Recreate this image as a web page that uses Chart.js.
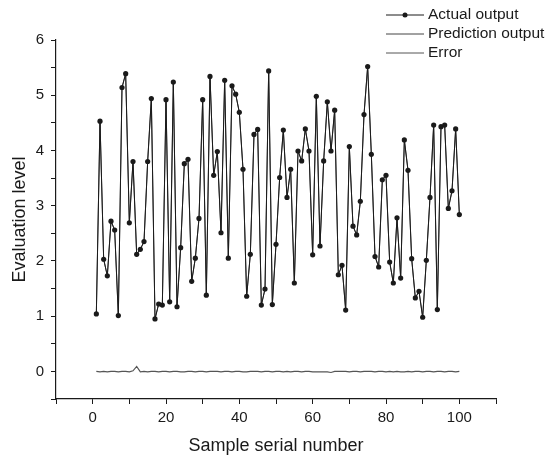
<!DOCTYPE html>
<html>
<head>
<meta charset="utf-8">
<script src="https://cdn.jsdelivr.net/npm/chart.js@4/dist/chart.umd.min.js"></script>
<style>
  html, body { margin: 0; padding: 0; background: #fff; }
  #wrap { width: 549px; height: 457px; }
</style>
</head>
<body>
<div id="wrap"><canvas id="chart" width="549" height="457"></canvas></div>
<script>
// Valores (amostras 1..100)
const actualOutput = [
  1.04, 4.53, 2.03, 1.73, 2.72, 2.56, 1.01, 5.14, 5.39, 2.69,
  3.80, 2.12, 2.21, 2.35, 3.80, 4.94, 0.95, 1.22, 1.20, 4.92,
  1.26, 5.24, 1.17, 2.24, 3.76, 3.84, 1.63, 2.05, 2.77, 4.92,
  1.38, 5.34, 3.55, 3.98, 2.51, 5.27, 2.05, 5.17, 5.02, 4.69,
  3.66, 1.36, 2.12, 4.29, 4.38, 1.20, 1.49, 5.44, 1.21, 2.30,
  3.51, 4.37, 3.15, 3.66, 1.60, 3.99, 3.81, 4.39, 3.99, 2.11,
  4.98, 2.27, 3.81, 4.88, 3.99, 4.73, 1.75, 1.92, 1.11, 4.07,
  2.63, 2.47, 3.08, 4.65, 5.52, 3.93, 2.08, 1.89, 3.47, 3.55,
  1.98, 1.60, 2.78, 1.69, 4.19, 3.64, 2.04, 1.33, 1.45, 0.98,
  2.01, 3.15, 4.46, 1.12, 4.43, 4.46, 2.95, 3.27, 4.39, 2.84
];
// A saída prevista coincide com a real no gráfico (linhas sobrepostas)
const predictionOutput = actualOutput;
const errorValues = [
  0.00, -0.01, 0.00, -0.01, 0.00, 0.00, -0.01, 0.00, 0.00, -0.01,
  0.01, 0.09, -0.01, 0.00, -0.01, 0.00, 0.00, -0.01, 0.00, 0.00,
  -0.01, 0.00, 0.00, -0.01, -0.01, 0.00, 0.00, -0.01, 0.00, 0.00,
  -0.01, 0.00, 0.00, 0.00, -0.01, 0.00, 0.00, -0.01, 0.00, 0.00,
  -0.01, -0.01, 0.00, 0.00, 0.00, -0.01, 0.00, 0.00, -0.01, 0.00,
  0.00, -0.01, 0.00, -0.01, 0.00, 0.00, -0.01, 0.00, 0.00, -0.01,
  -0.01, -0.01, -0.01, -0.01, -0.02, 0.00, 0.00, 0.00, 0.00, -0.01,
  0.00, 0.00, -0.01, 0.00, 0.00, 0.00, -0.01, 0.00, 0.00, -0.01,
  0.00, -0.01, 0.00, -0.01, -0.01, 0.00, -0.01, 0.00, 0.00, -0.01,
  0.00, 0.00, -0.01, 0.00, 0.00, -0.01, 0.00, 0.00, -0.01, 0.00
];
const legendLabels = ['Actual output', 'Prediction output', 'Error'];
const xTitle = 'Sample serial number';
const yTitle = 'Evaluation level';

const FONT = 'Arial, "Liberation Sans", sans-serif';
const INK = '#1a1a1a';

function toPoints(values) {
  return values.map((v, i) => ({ x: i + 1, y: v }));
}

// Legenda desenhada no canto superior direito, sobre a área do gráfico
const legendPlugin = {
  id: 'cornerLegend',
  afterDraw(chart) {
    const ctx = chart.ctx;
    const x0 = 386, x1 = 424, tx = 428;
    const rows = [15, 34, 53];
    ctx.save();
    ctx.font = '15.5px ' + FONT;
    ctx.textBaseline = 'middle';
    rows.forEach((y, i) => {
      const ds = chart.data.datasets[i];
      ctx.strokeStyle = ds.borderColor;
      ctx.lineWidth = 1;
      ctx.beginPath();
      ctx.moveTo(x0, y);
      ctx.lineTo(x1, y);
      ctx.stroke();
      if (i === 0) {
        ctx.beginPath();
        ctx.arc((x0 + x1) / 2, y, 2.5, 0, Math.PI * 2);
        ctx.fillStyle = INK;
        ctx.fill();
      }
      ctx.fillStyle = INK;
      ctx.fillText(legendLabels[i], tx, y);
    });
    ctx.restore();
  }
};

new Chart(document.getElementById('chart'), {
  type: 'line',
  data: {
    datasets: [
      {
        label: legendLabels[0],
        data: toPoints(actualOutput),
        borderColor: INK,
        backgroundColor: INK,
        borderWidth: 1,
        pointRadius: 2.6,
        pointBorderWidth: 0,
        tension: 0
      },
      {
        label: legendLabels[1],
        data: toPoints(predictionOutput),
        borderColor: '#444',
        borderWidth: 1,
        pointRadius: 0,
        tension: 0
      },
      {
        label: legendLabels[2],
        data: toPoints(errorValues),
        borderColor: '#555',
        borderWidth: 1.2,
        pointRadius: 0,
        tension: 0
      }
    ]
  },
  options: {
    responsive: false,
    animation: false,
    layout: { padding: { left: 0, right: 53, top: 40, bottom: 0 } },
    plugins: {
      legend: { display: false },
      tooltip: { enabled: false }
    },
    scales: {
      x: {
        type: 'linear',
        min: -10,
        max: 110,
        afterFit(scale) { scale.height = 58; },
        ticks: {
          stepSize: 10,
          autoSkip: false,
          maxRotation: 0,
          padding: 5,
          color: INK,
          font: { family: FONT, size: 15 },
          callback: v => (v % 20 === 0 && v >= 0 && v <= 100) ? v : ''
        },
        grid: {
          drawOnChartArea: false,
          drawTicks: true,
          tickLength: 5,
          tickColor: INK
        },
        border: { display: true, color: INK, width: 1.2 },
        title: {
          display: true,
          text: xTitle,
          color: INK,
          font: { family: FONT, size: 18 },
          padding: { top: 0, bottom: 0 }
        }
      },
      y: {
        type: 'linear',
        min: -0.5,
        max: 6,
        afterFit(scale) { scale.width = 56; },
        ticks: {
          stepSize: 0.5,
          autoSkip: false,
          padding: 7,
          color: INK,
          font: { family: FONT, size: 15 },
          callback: v => Number.isInteger(v) ? v : ''
        },
        grid: {
          drawOnChartArea: false,
          drawTicks: true,
          tickLength: 5,
          tickColor: INK
        },
        border: { display: true, color: INK, width: 1.2 },
        title: {
          display: true,
          text: yTitle,
          color: INK,
          font: { family: FONT, size: 18 },
          padding: { top: 9, bottom: 0 }
        }
      }
    }
  },
  plugins: [legendPlugin]
});
</script>
</body>
</html>
